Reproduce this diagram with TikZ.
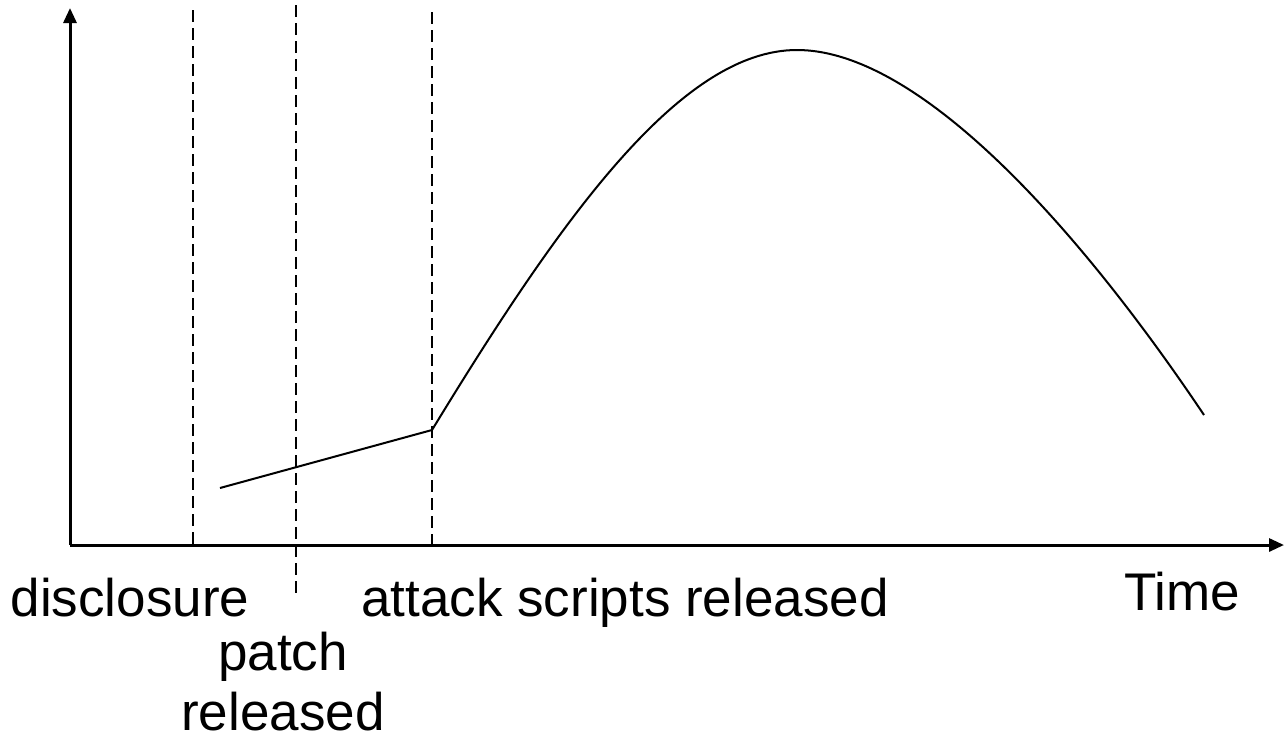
\documentclass[tikz,border=0pt]{standalone}
\usepackage{fontspec}
\setmainfont{Liberation Sans}
\usetikzlibrary{arrows.meta}
\begin{document}
\begin{tikzpicture}[x=1pt,y=-1pt,
  axis/.style={line width=3pt,-{Triangle[length=15pt,width=13pt]}},
  marker/.style={line width=2.6pt,dash pattern=on 12pt off 6pt},
  curve/.style={line width=2pt},
  lbl/.style={font=\fontsize{53}{60}\selectfont,anchor=base,inner sep=0pt}]
\useasboundingbox (0,0) rectangle (1284,748);
\coordinate (o) at (70,545);
\coordinate (ytop) at (70,8);
\coordinate (xend) at (1284,545);
\draw[axis] (o) -- (ytop);
\draw[axis] (o) -- (xend);
\coordinate (d1) at (193,10); \coordinate (d1b) at (193,545);
\coordinate (d2) at (296,5); \coordinate (d2b) at (296,595);
\coordinate (d3) at (432,12); \coordinate (d3b) at (432,545);
\draw[marker] (d1) -- (d1b);
\draw[marker] (d2) -- (d2b);
\draw[marker] (d3) -- (d3b);
\coordinate (s) at (220,488);
\coordinate (k) at (432,430);
\coordinate (p) at (797,50);
\coordinate (e) at (1204,415);
\draw[curve] (s) -- (k) .. controls (560,220) and (680,50) .. (p) .. controls (920,50) and (1080,230) .. (e);
\node[lbl] (disc) at (130,616) {disclosure};
\node[lbl] (att) at (625,616) {attack scripts released};
\node[lbl] (time) at (1182,610) {Time};
\node[lbl] (patch) at (283,670) {patch};
\node[lbl] (rel) at (283,730) {released};
\end{tikzpicture}
\end{document}
